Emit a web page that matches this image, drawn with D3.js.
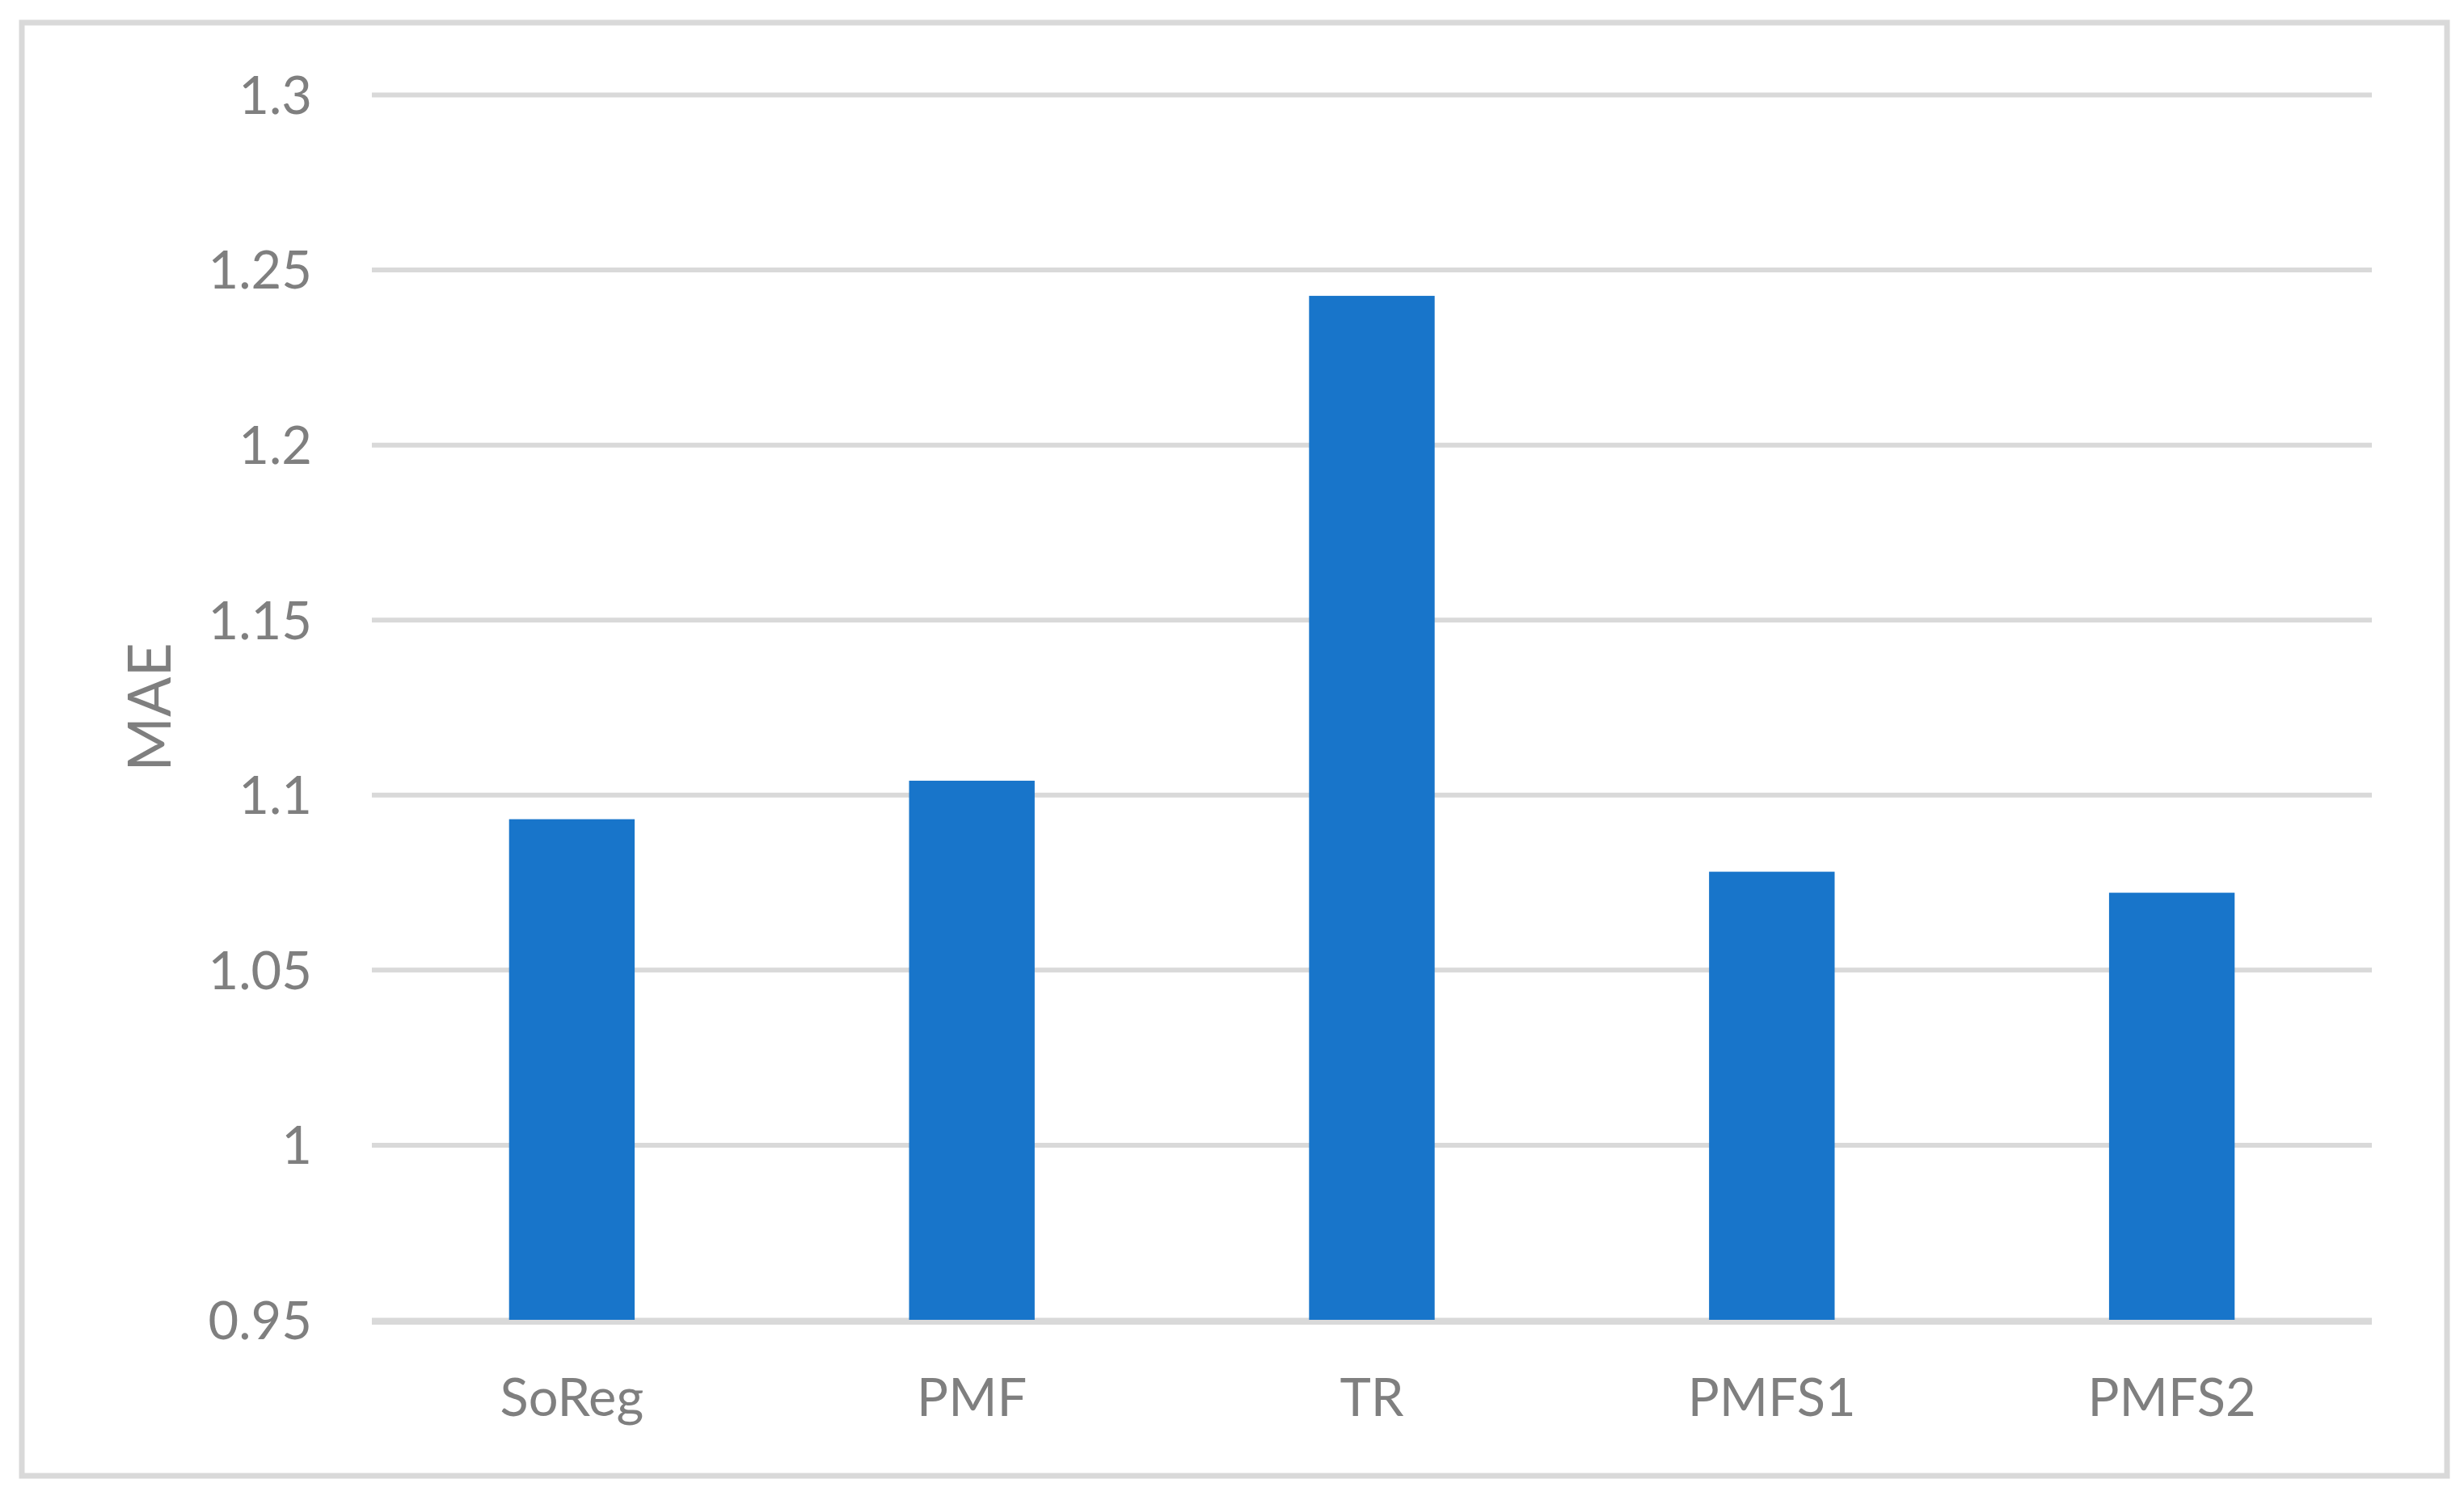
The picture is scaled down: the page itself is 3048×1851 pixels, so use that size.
<!DOCTYPE html>
<html>
<head>
<meta charset="utf-8">
<script src="https://cdn.jsdelivr.net/npm/d3@7"></script>
<style>
  body { margin: 0; background: #fff; }
  text { font-family: Lato, "Open Sans", sans-serif; fill: #7f7f7f; }
</style>
</head>
<body>
<div class="vis-chart"></div>
<script>
const categories = ["SoReg", "PMF", "TR", "PMFS1", "PMFS2"];
const maeValues = [1.093, 1.104, 1.2425, 1.078, 1.072];
const yTicks = [0.95, 1, 1.05, 1.1, 1.15, 1.2, 1.25, 1.3];
const yTitle = "MAE";

const draw = () => {
    const W = 3048, H = 1851;
    let margin = {top: 117, right: 114, bottom: 218, left: 460};
    const width = W - margin.left - margin.right;
    const height = H - margin.top - margin.bottom;

    let svg = d3.select(".vis-chart")
                .append("svg")
                .attr("width", W)
                .attr("height", H);

    // outer frame
    svg.append("rect")
        .attr("x", 27).attr("y", 28)
        .attr("width", 3027 - 27).attr("height", 1826 - 28)
        .attr("fill", "none")
        .attr("stroke", "#d9d9d9")
        .attr("stroke-width", 7);

    let g = svg.append("g")
               .attr("transform", "translate(" + margin.left + "," + margin.top + ")");

    let xScale = d3.scaleBand()
                   .domain(categories)
                   .range([0, width])
                   .paddingInner(0.686)
                   .paddingOuter(0.343);
    let yScale = d3.scaleLinear()
                   .domain([yTicks[0], yTicks[yTicks.length - 1]])
                   .range([height, 0]);

    // y axis with gridlines
    let yAxis = g.append("g")
        .call(d3.axisLeft(yScale)
                .tickValues(yTicks)
                .tickFormat(d => String(d))
                .tickSize(-width)
                .tickPadding(74));
    yAxis.select(".domain").remove();
    yAxis.selectAll("line").attr("stroke", "#d9d9d9").attr("stroke-width", 6);
    yAxis.selectAll("text")
        .attr("font-size", 65)
        .attr("fill", "#7f7f7f")
        .attr("dy", "0.36em")
        .style("font-family", "Lato, 'Open Sans', sans-serif");

    // bars
    g.selectAll(".bar")
        .data(categories)
        .enter().append("rect")
        .attr("class", "bar")
        .attr("x", d => xScale(d))
        .attr("width", xScale.bandwidth())
        .attr("y", (d, i) => yScale(maeValues[i]))
        .attr("height", (d, i) => yScale(yTicks[0]) - yScale(maeValues[i]))
        .attr("fill", "#1875ca");

    // baseline on top of bars
    g.append("line")
        .attr("x1", 0).attr("x2", width)
        .attr("y1", yScale(yTicks[0]) + 3).attr("y2", yScale(yTicks[0]) + 3)
        .attr("stroke", "#d9d9d9")
        .attr("stroke-width", 6);

    // x axis labels
    let xAxis = g.append("g")
        .attr("transform", "translate(0," + height + ")")
        .call(d3.axisBottom(xScale).tickSize(0).tickPadding(0));
    xAxis.select(".domain").remove();
    xAxis.selectAll("text")
        .attr("y", 119)
        .attr("dy", 0)
        .attr("font-size", 65)
        .attr("fill", "#7f7f7f")
        .style("font-family", "Lato, 'Open Sans', sans-serif");

    // y title
    svg.append("text")
        .attr("transform", "translate(185," + (margin.top + height / 2) + ") rotate(-90)")
        .attr("text-anchor", "middle")
        .attr("dy", "0.36em")
        .attr("font-size", 73)
        .text(yTitle);
};

draw();
</script>
</body>
</html>
